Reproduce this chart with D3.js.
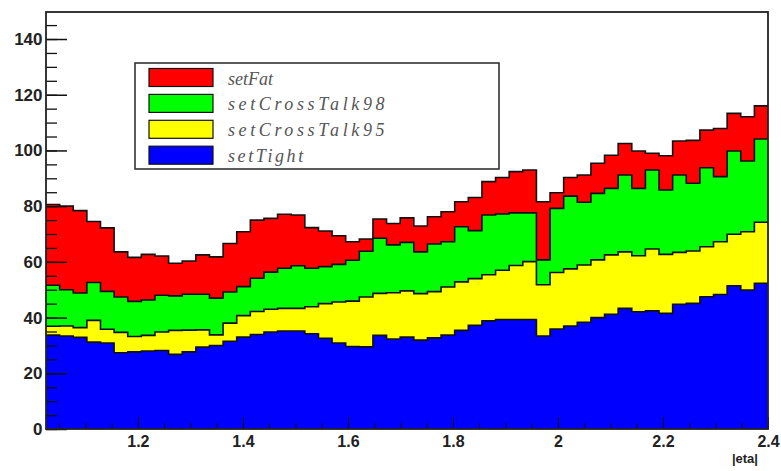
<!DOCTYPE html>
<html>
<head>
<meta charset="utf-8">
<script src="https://cdn.jsdelivr.net/npm/d3@7"></script>
<style>
  body { margin: 0; background: #fff; }
  svg { display: block; }
</style>
</head>
<body>
<div id="chart"></div>
<script>
// histogram binning in |eta|
const etaMin = 1.025, etaMax = 2.4, nBins = 53;

// bin contents of each stacked histogram (bottom to top)
const setTight = [33.7, 33.4, 32.9, 31.2, 30.9, 27.4, 27.7, 28.0, 28.2, 26.8,
  27.7, 29.4, 30.0, 31.5, 33.0, 33.9, 34.8, 35.2, 35.2, 34.2,
  32.6, 30.9, 29.6, 29.5, 33.6, 32.3, 33.0, 31.9, 32.7, 33.7,
  35.4, 37.2, 38.8, 39.3, 39.3, 39.3, 33.4, 35.9, 37.0, 38.3,
  40.0, 41.2, 43.3, 42.1, 42.4, 41.5, 44.8, 45.1, 47.5, 48.3,
  51.4, 49.9, 52.3];
const setCrossTalk95 = [3.2, 3.6, 3.5, 7.8, 4.9, 7.3, 5.5, 5.6, 6.6, 8.6,
  7.8, 6.2, 3.8, 6.5, 7.7, 8.3, 8.2, 8.1, 8.1, 9.7,
  12.4, 14.7, 16.3, 17.9, 15.1, 16.6, 16.6, 16.7, 16.6, 17.3,
  17.4, 16.8, 16.6, 17.7, 19.4, 20.8, 18.4, 20.3, 20.5, 20.6,
  20.7, 21.3, 20.3, 20.1, 22.2, 21.2, 18.6, 18.8, 17.9, 18.9,
  18.5, 20.9, 21.9];
const setCrossTalk98 = [14.7, 13.0, 12.4, 13.6, 13.6, 12.7, 12.6, 12.7, 13.2, 12.4,
  12.9, 12.8, 13.2, 11.2, 10.4, 11.9, 13.3, 14.4, 15.3, 13.8,
  13.3, 13.5, 14.7, 16.4, 19.8, 17.2, 17.4, 15.0, 17.1, 16.2,
  19.8, 17.2, 21.4, 20.2, 18.9, 17.5, 8.9, 23.0, 26.1, 22.5,
  23.9, 23.9, 27.6, 24.2, 28.4, 23.1, 27.8, 24.3, 28.4, 23.4,
  29.9, 25.4, 29.9];
const setFat = [29.0, 30.0, 29.6, 21.9, 22.8, 16.2, 15.8, 16.4, 14.1, 11.7,
  11.9, 14.1, 14.8, 17.4, 19.7, 20.9, 19.3, 19.4, 18.2, 14.6,
  12.8, 10.3, 6.6, 4.4, 6.9, 7.7, 8.8, 9.3, 9.8, 10.8,
  9.0, 11.9, 12.0, 13.1, 14.8, 15.4, 20.9, 5.6, 6.7, 9.8,
  10.8, 11.9, 11.3, 13.4, 6.0, 12.3, 12.2, 15.4, 13.5, 17.3,
  13.5, 15.9, 11.9];

const seriesNames = ["setTight", "setCrossTalk95", "setCrossTalk98", "setFat"];
const seriesColors = ["#0000ff", "#ffff00", "#00ff00", "#ff0000"];
const legendOrder = ["setFat", "setCrossTalk98", "setCrossTalk95", "setTight"];

const yTicks = [0, 20, 40, 60, 80, 100, 120, 140];
const xTicks = [1.2, 1.4, 1.6, 1.8, 2.0, 2.2, 2.4];
const xTickLabels = ["1.2", "1.4", "1.6", "1.8", "2", "2.2", "2.4"];

const width = 781, height = 471;
const margin = {left: 46, right: 13, top: 12, bottom: 42};

const svg = d3.select("#chart")
  .append("svg")
  .attr("width", width)
  .attr("height", height);

const x = d3.scaleLinear()
  .domain([etaMin, etaMax])
  .range([margin.left, width - margin.right]);

const y = d3.scaleLinear()
  .domain([0, 149.7])
  .range([height - margin.bottom, margin.top]);

// bin edges and table for the stack
const edges = d3.range(nBins + 1).map(k => etaMin + k * (etaMax - etaMin) / nBins);
const columns = [setTight, setCrossTalk95, setCrossTalk98, setFat];
const rows = d3.range(nBins).map(i => {
  const r = {};
  seriesNames.forEach((s, j) => r[s] = columns[j][i]);
  return r;
});
const stacked = d3.stack().keys(seriesNames)(rows);

const area = d3.area()
  .curve(d3.curveStepAfter)
  .x(p => x(p.e))
  .y0(y(0))
  .y1(p => y(p.v));

const line = d3.line()
  .curve(d3.curveStepAfter)
  .x(p => x(p.e))
  .y(p => y(p.v));

// like a THStack: the top cumulative histogram first, each filled down to zero
stacked.slice().reverse().forEach(layer => {
  const pts = layer.map((d, i) => ({e: edges[i], v: d[1]}));
  pts.push({e: edges[nBins], v: layer[nBins - 1][1]});
  const color = seriesColors[layer.index];
  svg.append("path")
    .attr("d", area(pts))
    .attr("fill", color);
  svg.append("path")
    .attr("d", line(pts))
    .attr("fill", "none")
    .attr("stroke", "#111")
    .attr("stroke-width", 1.6);
});

// y axis, ticks pointing inwards
svg.append("g")
  .attr("transform", `translate(${margin.left},0)`)
  .call(d3.axisLeft(y).tickValues(d3.range(0, 150, 5)).tickSize(-11).tickFormat(""))
  .call(g => g.select(".domain").remove())
  .selectAll("line").attr("stroke", "#111").attr("stroke-width", 1.3);

svg.append("g")
  .attr("transform", `translate(${margin.left},0)`)
  .call(d3.axisLeft(y).tickValues(yTicks).tickSize(-21).tickPadding(3.5))
  .call(g => g.select(".domain").remove())
  .call(g => g.selectAll("line").attr("stroke", "#111").attr("stroke-width", 1.5))
  .call(g => g.selectAll("text")
    .attr("font-family", "Liberation Sans, Arial, sans-serif")
    .attr("font-weight", "bold")
    .attr("font-size", "17px")
    .attr("fill", "#222"));

// x axis
svg.append("g")
  .attr("transform", `translate(0,${height - margin.bottom})`)
  .call(d3.axisBottom(x).tickValues(d3.range(1.05, 2.41, 0.05)).tickSize(-6).tickFormat(""))
  .call(g => g.select(".domain").remove())
  .selectAll("line").attr("stroke", "#111");

svg.append("g")
  .attr("transform", `translate(0,${height - margin.bottom})`)
  .call(d3.axisBottom(x).tickValues(xTicks).tickSize(-12).tickPadding(7)
    .tickFormat((d, i) => xTickLabels[i]))
  .call(g => g.select(".domain").remove())
  .call(g => g.selectAll("line").attr("stroke", "#111"))
  .call(g => g.selectAll("text")
    .attr("font-family", "Liberation Sans, Arial, sans-serif")
    .attr("font-weight", "bold")
    .attr("font-size", "16px")
    .attr("fill", "#222"));

svg.append("text")
  .attr("x", 758)
  .attr("y", 463)
  .attr("text-anchor", "end")
  .attr("font-family", "Liberation Sans, Arial, sans-serif")
  .attr("font-weight", "bold")
  .attr("font-size", "13px")
  .attr("fill", "#222")
  .text("|eta|");

// frame
svg.append("rect")
  .attr("x", margin.left)
  .attr("y", margin.top)
  .attr("width", width - margin.left - margin.right)
  .attr("height", height - margin.top - margin.bottom)
  .attr("fill", "none")
  .attr("stroke", "#222")
  .attr("stroke-width", 1.8);

// legend
const legend = svg.append("g");
legend.append("rect")
  .attr("x", 135).attr("y", 63)
  .attr("width", 364).attr("height", 106)
  .attr("fill", "#fff")
  .attr("stroke", "#333")
  .attr("stroke-width", 1.6);

const letterGap = {setFat: "0px", setCrossTalk98: "3.6px", setCrossTalk95: "3.6px", setTight: "2.6px"};

legendOrder.forEach((name, i) => {
  const cy = 77.5 + i * 25.9;
  legend.append("rect")
    .attr("x", 149).attr("y", cy - 9)
    .attr("width", 64).attr("height", 18)
    .attr("fill", seriesColors[seriesNames.indexOf(name)])
    .attr("stroke", "#111")
    .attr("stroke-width", 1.2);
  legend.append("text")
    .attr("x", 228)
    .attr("y", cy + 7)
    .attr("font-family", "Liberation Serif, Times New Roman, serif")
    .attr("font-style", "italic")
    .attr("font-size", "18px")
    .attr("letter-spacing", letterGap[name])
    .attr("fill", "#555")
    .text(name);
});
</script>
</body>
</html>
